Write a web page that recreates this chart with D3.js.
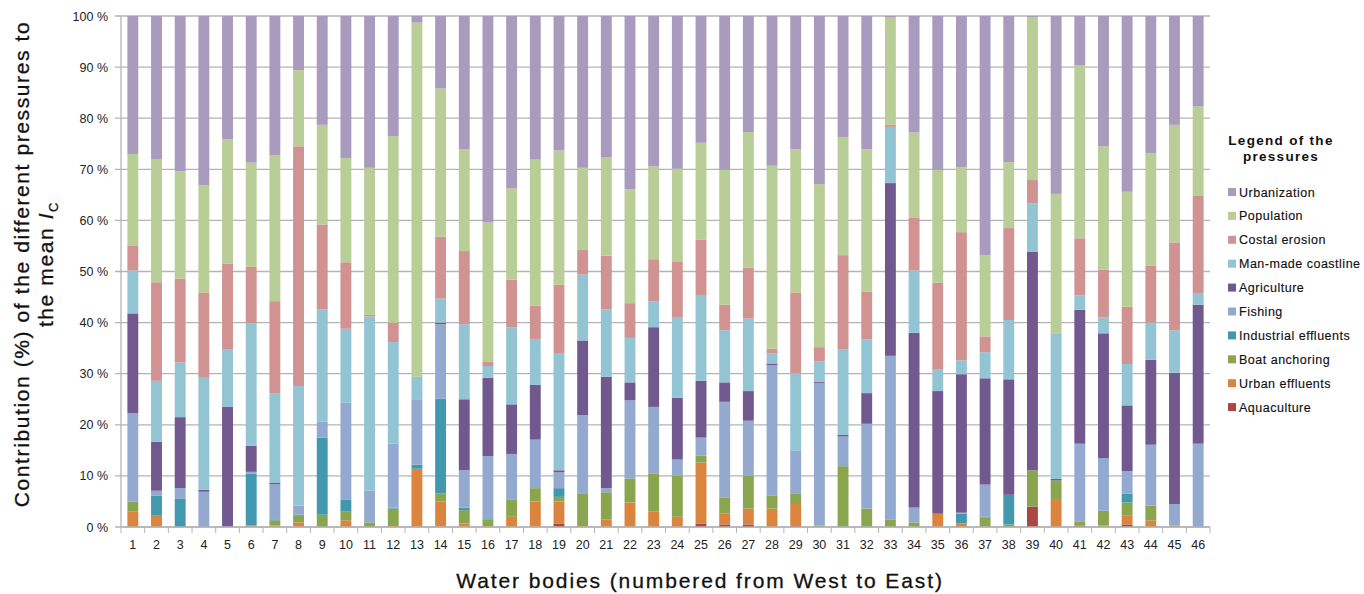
<!DOCTYPE html>
<html>
<head>
<meta charset="utf-8">
<script src="https://cdn.jsdelivr.net/npm/d3@7"></script>
<style>
  html, body { margin: 0; padding: 0; background: #fff; overflow: hidden; }
  svg { display: block; }
  text { font-family: "Liberation Sans", Arial, sans-serif; }
</style>
</head>
<body>
<svg id="chart" width="1364" height="594"></svg>
<script>
const bodies = d3.range(1, 47).map(String);
const yTicks = [0, 10, 20, 30, 40, 50, 60, 70, 80, 90, 100];

// contribution (%) per water body, bottom of the stack first
const aquaculture = [0,0,0,0,0,0,0,0,0,0,0,0,0,0,0,0,0,0,0.7,0,0,0,0,0,0.7,0.5,0.5,0,0.2,0,0,0,0,0,0,0,0,0,4,0,0.3,0,0.5,0,0,0];
const urbanEffluents = [3,2.2,0,0,0,0.3,0.3,0.9,0,1.3,0,0.2,11.4,5,0.7,0.2,2,5,4.3,0.2,1.5,4.8,3,2,11.9,2.1,3.1,3.6,4.3,0,0,0,0,0,2.6,0.7,0,0,0,5.3,0,0.3,1.7,1.3,0,0];
const boatAnchoring = [2,0,0,0,0,0,1,1.3,2.4,1.7,0.9,3.4,0,1.6,2.6,1.3,3.3,2.6,0.9,6.4,5.3,4.7,7.4,8,1.4,3.2,6.4,2.5,2.1,0.3,11.9,3.6,1.5,0.9,0,0,1.9,0.5,7.1,3.8,0.7,2.9,2.6,2.9,0.3,0];
const industrialEffluents = [0,3.9,5.5,0,0,10.1,0.2,0.2,15.1,2.3,0,0.2,0.8,18.5,0.5,0.2,0,0,1.7,0,0,0,0,0,0,0,0,0,0,0,0,0,0,0,0,1.9,0.1,5.8,0,0,0,0,1.7,0,0,0];
const fishing = [17.3,1,2.1,6.9,0,0.4,6.9,1.8,3.1,19,6.2,12.5,12.8,14.6,7.3,12.2,9,9.5,3.1,15.3,0.8,15.3,13.1,3.2,3.5,18.7,10.8,25.6,8.3,27.9,5.8,16.6,32,2.9,0,0.2,6.3,0,0,0,15.3,10.3,4.4,11.9,4.2,16.3];
const agriculture = [19.5,9.6,13.9,0.4,23.5,5.1,0.3,0,0,0,0,0,0,0.3,13.9,15.3,9.7,10.7,0.4,14.6,21.8,3.5,15.6,12.1,11.1,3.8,5.8,0.3,0,0.2,0.3,6,33.8,34.2,24,27.1,20.8,22.6,42.8,0.3,26.2,24.4,12.9,16.6,25.7,27.2];
const manMadeCoastline = [8.4,11.9,10.7,21.9,11.2,24,17.4,23.4,22,14.5,34.1,19.9,4.4,4.7,14.7,2.3,15.1,9,22.8,12.9,13.2,8.7,5.1,15.8,16.8,10.2,14.2,2,15.2,4,16.8,10.5,11,12.2,4.3,2.7,5.1,11.6,9.4,28.4,2.8,3.1,8.1,7.3,8.3,2.3];
const costalErosion = [4.8,19.3,16.4,16.7,16.8,11,18.1,46.9,16.6,13,0.3,3.8,0,12.1,14.3,0.9,9.3,6.5,13.5,4.8,10.5,6.8,8.2,10.9,10.8,5,9.9,0.9,15.8,2.8,18.4,9.4,0.4,10.4,16.9,25.1,3.1,18,4.6,0,11.2,9.4,11.2,11.1,17.2,19.1];
const population = [18,24.1,21,21,24.4,20.4,28.5,14.9,19.5,20.4,28.8,36.5,69.3,29,19.9,27.2,17.9,28.6,26.3,16.1,19.2,22.3,18.2,18.1,19,26.4,26.6,35.8,28,31.9,23.1,27.8,21,16.6,22.1,12.7,15.9,12.9,31.8,27.4,33.9,24.1,22.5,22.1,23,17.4];
const urbanization = [27,28,30.4,33.1,24.1,28.7,27.3,10.6,21.3,27.8,29.7,23.5,1.3,14.2,26.1,40.4,33.7,28.1,26.3,29.7,27.7,33.9,29.4,29.9,24.8,30.1,22.7,29.3,26.1,32.9,23.7,26.1,0.3,22.8,30.1,29.6,46.8,28.6,0.3,34.8,9.6,25.5,34.4,26.8,21.3,17.7];

const seriesNames = ["Aquaculture", "Urban effluents", "Boat anchoring", "Industrial effluents", "Fishing",
  "Agriculture", "Man-made coastline", "Costal erosion", "Population", "Urbanization"];
const seriesValues = [aquaculture, urbanEffluents, boatAnchoring, industrialEffluents, fishing,
  agriculture, manMadeCoastline, costalErosion, population, urbanization];
const colors = ["#aa4643", "#db843d", "#89a54e", "#4198af", "#93a9cf",
  "#71588f", "#93c4d4", "#d19392", "#b9cd96", "#a99bbd"];

const rows = bodies.map((b, i) => {
  const r = { body: b };
  seriesNames.forEach((s, j) => { r[s] = seriesValues[j][i]; });
  return r;
});

const margin = { top: 16, right: 154, bottom: 67, left: 121 };
const width = 1364, height = 594;
const innerWidth = width - margin.left - margin.right;
const innerHeight = height - margin.top - margin.bottom;

const svg = d3.select("#chart");
const g = svg.append("g").attr("transform", `translate(${margin.left}, ${margin.top})`);

const x = d3.scaleBand().domain(bodies).range([0, innerWidth]).paddingInner(0.54).paddingOuter(0.27);
const y = d3.scaleLinear().domain([0, 100]).range([innerHeight, 0]);
const sep = d3.scaleLinear().domain([0, bodies.length]).range([0, innerWidth]);

// gridlines
g.selectAll(".grid").data(yTicks).join("line")
  .attr("x1", -6).attr("x2", innerWidth)
  .attr("y1", d => y(d)).attr("y2", d => y(d))
  .attr("stroke", "#b4b4b4").attr("stroke-width", 1.3);

// y axis line and labels
g.append("line").attr("x1", 0).attr("x2", 0).attr("y1", y(0)).attr("y2", y(100))
  .attr("stroke", "#b4b4b4").attr("stroke-width", 1.3);
g.selectAll(".ylab").data(yTicks).join("text")
  .attr("x", -13).attr("y", d => y(d) + 4.5)
  .attr("text-anchor", "end").attr("font-size", 12.5).attr("fill", "#222")
  .text(d => d + " %");

// stacks
const stack = d3.stack().keys(seriesNames)(rows);
g.selectAll(".layer").data(stack).join("g")
  .attr("fill", (d, i) => colors[i])
  .selectAll("rect").data(d => d).join("rect")
  .attr("x", d => x(d.data.body))
  .attr("width", x.bandwidth())
  .attr("y", d => y(d[1]))
  .attr("height", d => Math.max(0, y(d[0]) - y(d[1])));

// x axis
g.append("line").attr("x1", 0).attr("x2", innerWidth).attr("y1", y(0)).attr("y2", y(0))
  .attr("stroke", "#b4b4b4").attr("stroke-width", 1.3);
g.selectAll(".sep").data(d3.range(0, bodies.length + 1)).join("line")
  .attr("x1", i => sep(i)).attr("x2", i => sep(i))
  .attr("y1", y(0)).attr("y2", y(0) + 6)
  .attr("stroke", "#b4b4b4").attr("stroke-width", 1);
g.selectAll(".xlab").data(bodies).join("text")
  .attr("x", d => x(d) + x.bandwidth() / 2).attr("y", y(0) + 22)
  .attr("text-anchor", "middle").attr("font-size", 12.5).attr("fill", "#222")
  .text(d => d);

// x axis title
svg.append("text")
  .attr("x", 700)
  .attr("y", 588)
  .attr("text-anchor", "middle")
  .attr("font-size", 21)
  .attr("letter-spacing", 1.9)
  .attr("fill", "#111")
  .attr("stroke", "#111").attr("stroke-width", 0.3)
  .text("Water bodies (numbered from West to East)");

// y axis title
const yt = svg.append("text")
  .attr("transform", "translate(29, 264) rotate(-90)")
  .attr("text-anchor", "middle")
  .attr("font-size", 21)
  .attr("letter-spacing", 1.6)
  .attr("fill", "#111")
  .attr("stroke", "#111").attr("stroke-width", 0.3);
yt.append("tspan").attr("x", 0).attr("dy", 0).text("Contribution (%) of the different pressures to");
const l2 = yt.append("tspan").attr("x", 0).attr("dy", 24);
l2.append("tspan").text("the mean ");
l2.append("tspan").attr("font-style", "italic").text("I");
l2.append("tspan").attr("font-size", 13).attr("dy", 5).text("C");

// legend
const lg = svg.append("g").attr("transform", "translate(1228, 0)");
lg.append("text").attr("x", 53).attr("y", 145).attr("text-anchor", "middle")
  .attr("font-size", 13.5).attr("font-weight", "bold").attr("letter-spacing", 1.3).attr("fill", "#111")
  .text("Legend of the");
lg.append("text").attr("x", 53).attr("y", 161).attr("text-anchor", "middle")
  .attr("font-size", 13.5).attr("font-weight", "bold").attr("letter-spacing", 1.3).attr("fill", "#111")
  .text("pressures");

const legendItems = seriesNames.map((s, i) => ({ name: s, color: colors[i] })).reverse();
const item = lg.selectAll(".item").data(legendItems).join("g")
  .attr("transform", (d, i) => `translate(0, ${192 + i * 23.9})`);
item.append("rect").attr("x", 0).attr("y", -4).attr("width", 8).attr("height", 8).attr("fill", d => d.color);
item.append("text").attr("x", 11).attr("y", 4.5).attr("font-size", 12.5).attr("letter-spacing", 0.5)
  .attr("fill", "#111").attr("stroke", "#111").attr("stroke-width", 0.15).text(d => d.name);
</script>
</body>
</html>
